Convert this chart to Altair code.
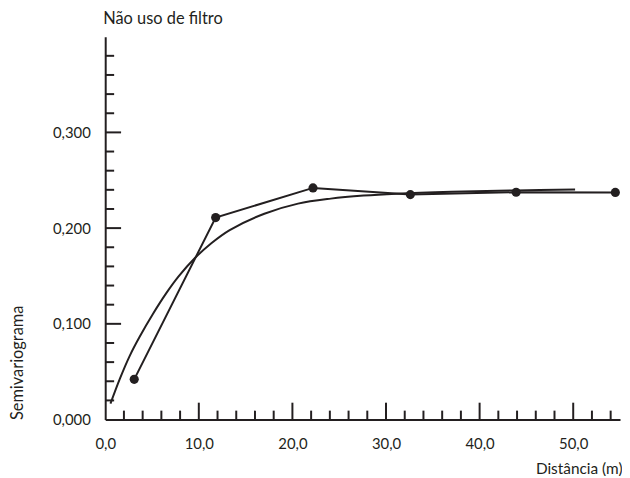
import altair as alt
import pandas as pd

# Experimental semivariogram points
dist_pts = [3.1, 11.8, 22.2, 32.6, 43.9, 54.5]
gamma_pts = [0.042, 0.211, 0.242, 0.235, 0.2375, 0.2373]

# Fitted model curve
dist_fit = [0.56, 1.56, 2.62, 3.68, 5.08, 6.49, 7.84, 9.61, 11.37, 13.3, 17.0, 20.6, 24.1,
            27.6, 31.1, 37.0, 43.9, 50.2]
gamma_fit = [0.0166, 0.0425, 0.0666, 0.0865, 0.110, 0.1315, 0.1495, 0.169, 0.1845, 0.198,
             0.215, 0.2256, 0.2308, 0.234, 0.236, 0.238, 0.2394, 0.2404]

# Axis ticks
x_labels = [0, 10, 20, 30, 40, 50]
x_major = [10, 20, 30, 40, 50]
x_minor = [2, 4, 6, 8, 12, 14, 16, 18, 22, 24, 26, 28, 32, 34, 36, 38, 42, 44, 46, 48, 52, 54]
y_labels = [0.0, 0.1, 0.2, 0.3]
y_major = [0.1, 0.2, 0.3]
y_minor = [0.02, 0.04, 0.06, 0.08, 0.12, 0.14, 0.16, 0.18, 0.22, 0.24, 0.26, 0.28,
           0.32, 0.34, 0.36, 0.38]

title_text = "Não uso de filtro"

INK = "#231f20"
FONT = "Lato"
W, H = 519, 386

pts = pd.DataFrame({"d": dist_pts, "g": gamma_pts})
fit = pd.DataFrame({"d": dist_fit, "g": gamma_fit})

xscale = alt.Scale(domain=[0, 55], nice=False, zero=False)
yscale = alt.Scale(domain=[0, 0.4], nice=False, zero=False)

xaxis = alt.Axis(
    values=x_labels, ticks=False, tickSize=0, grid=False, labelFlush=False,
    labelExpr="replace(format(datum.value, '.1f'), '.', ',')",
    labelPadding=17, labelFontSize=15, labelFont=FONT, labelColor=INK,
    domainColor=INK, domainWidth=2,
    title="Distância (m)", titleX=W + 2, titleY=49, titleAlign="right",
    titleBaseline="middle", titleFont=FONT, titleFontSize=15.5,
    titleFontWeight="normal", titleColor=INK,
)
yaxis = alt.Axis(
    values=y_labels, ticks=False, tickSize=0, grid=False, labelFlush=False,
    labelExpr="replace(format(datum.value, '.3f'), '.', ',')",
    labelPadding=15, labelFontSize=15, labelFont=FONT, labelColor=INK,
    domainColor=INK, domainWidth=2,
    title="Semivariograma", titleAngle=-90, titleX=-88, titleY=386,
    titleAlign="left", titleBaseline="middle", titleFont=FONT, titleFontSize=16.5,
    titleFontWeight="normal", titleColor=INK,
)

base_line = alt.Chart(pts).mark_line(color=INK, strokeWidth=2).encode(
    x=alt.X("d:Q", scale=xscale, axis=xaxis),
    y=alt.Y("g:Q", scale=yscale, axis=yaxis),
)
dots = alt.Chart(pts).mark_circle(color=INK, size=85, opacity=1).encode(
    x=alt.X("d:Q", scale=xscale), y=alt.Y("g:Q", scale=yscale)
)
curve = alt.Chart(fit).mark_line(color=INK, strokeWidth=2, interpolate="catmull-rom").encode(
    x=alt.X("d:Q", scale=xscale), y=alt.Y("g:Q", scale=yscale)
)
title = alt.Chart(pd.DataFrame({"t": [title_text]})).mark_text(
    color=INK, font=FONT, fontSize=16.5, align="left", baseline="alphabetic"
).encode(text="t:N", x=alt.value(-2), y=alt.value(-13))


def xticks(vals, length):
    return alt.Chart(pd.DataFrame({"v": vals})).mark_rule(color=INK, strokeWidth=2).encode(
        x=alt.X("v:Q", scale=xscale), y=alt.value(H), y2=alt.value(H - length)
    )


def yticks(vals, length):
    return alt.Chart(pd.DataFrame({"v": vals})).mark_rule(color=INK, strokeWidth=2).encode(
        y=alt.Y("v:Q", scale=yscale), x=alt.value(0), x2=alt.value(length)
    )


chart = alt.layer(
    xticks(x_major, 17), xticks(x_minor, 9),
    yticks(y_major, 16), yticks(y_minor, 9),
    curve, base_line, dots, title,
).properties(
    width=W, height=H,
    autosize=alt.AutoSizeParams(type="none"),
    padding={"left": 98, "top": 27, "right": 2, "bottom": 55},
).configure(background="white").configure_view(stroke=None)

chart.save("out.html", embed_options={"renderer": "svg", "actions": False})
